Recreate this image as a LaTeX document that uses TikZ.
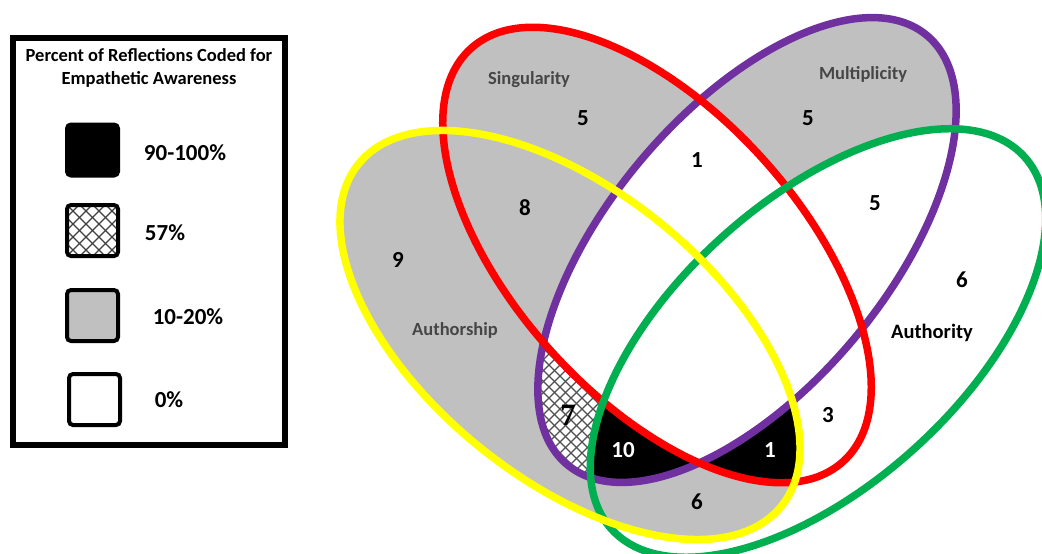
\documentclass[tikz,border=0pt]{standalone}
\usepackage{fontspec}
\setmainfont{Carlito}
\newfontfamily\sevenfont{Liberation Serif}
\definecolor{vred}{RGB}{255,0,0}
\definecolor{vpurple}{RGB}{112,48,160}
\definecolor{vyellow}{RGB}{255,255,0}
\definecolor{vgreen}{RGB}{0,176,80}
\definecolor{vgray}{RGB}{192,192,192}
\definecolor{labgray}{RGB}{70,70,70}
\definecolor{hatchgray}{RGB}{80,80,80}
\def\Rp{(657,255) ellipse (278 and 143)}
\def\Pp{(747,250) ellipse (280 and 139)}
\def\Yp{(570,335) ellipse (272 and 144)}
\def\Gp{(818,343) ellipse (278 and 143)}
\tikzset{
  Rrot/.style={rotate around={-48:(657,255)}},
  Prot/.style={rotate around={50:(747,250)}},
  Yrot/.style={rotate around={-39:(570,335)}},
  Grot/.style={rotate around={42:(818,343)}},
  vline/.style={line width=7.5pt},
  vhatch/.style={draw=hatchgray, line width=1.1pt},
  lhatch/.style={draw=black!75, line width=1.1pt},
  legbox/.style={draw=black, line width=4pt, rounded corners=4pt, minimum width=51pt, minimum height=51pt, inner sep=0pt},
  ttl/.style={font=\fontsize{18.5}{23}\selectfont\bfseries, align=center, inner sep=0pt},
  leglab/.style={font=\fontsize{23}{26}\selectfont\bfseries, inner sep=0pt},
  num/.style={font=\fontsize{23}{26}\selectfont\bfseries, inner sep=0pt},
  setlab/.style={font=\fontsize{18.5}{22}\selectfont\bfseries, text=labgray, inner sep=0pt},
}
\begin{document}
\begin{tikzpicture}[x=1pt,y=-1pt]
\useasboundingbox (0,0) rectangle (1042,554);
\fill[white] (0,0) rectangle (1042,554);

% ---------- region fills ----------
\fill[vgray,Yrot] \Yp;
\fill[vgray,Rrot] \Rp;
\fill[vgray,Prot] \Pp;
\fill[white,Grot] \Gp;
\begin{scope}
  \clip[Rrot] \Rp;
  \fill[white,Prot] \Pp;
\end{scope}
% Y and P : crosshatch
\begin{scope}
  \clip[Yrot] \Yp;
  \clip[Prot] \Pp;
  \fill[white] (400,250) rectangle (750,520);
  \foreach \k in {-25,...,25} {
    \draw[vhatch] (560+\k*11-150,270) -- ++(300,300);
    \draw[vhatch] (560+\k*11-150,570) -- ++(300,-300);
  }
\end{scope}
% Y and G : gray
\begin{scope}
  \clip[Yrot] \Yp;
  \fill[vgray,Grot] \Gp;
\end{scope}
% Y, R and P : white
\begin{scope}
  \clip[Yrot] \Yp;
  \clip[Rrot] \Rp;
  \fill[white,Prot] \Pp;
\end{scope}
% Y, G with R or P : black ; all four : white
\begin{scope}
  \clip[Yrot] \Yp;
  \clip[Grot] \Gp;
  \fill[black,Rrot] \Rp;
  \fill[black,Prot] \Pp;
  \clip[Rrot] \Rp;
  \fill[white,Prot] \Pp;
\end{scope}

% ---------- outlines ----------
\draw[vline,vpurple,Prot] \Pp;
\draw[vline,vred,Rrot] \Rp;
\draw[vline,vgreen,Grot] \Gp;
\draw[vline,vyellow,Yrot] \Yp;

% ---------- labels ----------
\node[setlab] (sing) at (529,80) {Singularity};
\node[setlab] (mult) at (863,74) {Multiplicity};
\node[setlab] (auth) at (455,330) {Authorship};
\node[font=\fontsize{20.5}{24}\selectfont\bfseries, inner sep=0pt] (autho) at (932,333) {Authority};

\node[num] (nR) at (583,118) {5};
\node[num] (nYR) at (525,208) {8};
\node[num] (nY) at (398,260) {9};
\node[num] (nP) at (808,118) {5};
\node[num] (nRP) at (697,160) {1};
\node[num] (nPG) at (875,203) {5};
\node[num] (nG) at (962,280) {6};
\node[num] (nRG) at (828,415) {3};
\node[num, text=white] (nYRG) at (770,450) {1};
\node[num, text=white] (nYPG) at (623,450) {10};
\node[font=\fontsize{31}{34}\selectfont\sevenfont\bfseries, inner sep=0pt] (nYP) at (568,415) {7};
\node[num] (nYG) at (697,502) {6};

% ---------- legend ----------
\draw[line width=6pt] (13,38) rectangle (285,445);
\node[ttl] (title) at (149,68) {Percent of Reflections Coded for\\Empathetic Awareness};
\node[legbox, fill=black] (kblack) at (92.5,150) {};
\node[legbox, fill=white, path picture={
  \foreach \k in {-6,...,6} {
    \draw[lhatch, shift={(path picture bounding box.center)}] (\k*13-40,-40) -- ++(80,80);
    \draw[lhatch, shift={(path picture bounding box.center)}] (\k*13-40,40) -- ++(80,-80);
  }}] (khatch) at (92.5,230.5) {};
\node[legbox, fill=vgray] (kgray) at (92.5,315.5) {};
\node[legbox, fill=white] (kwhite) at (94.5,399.5) {};
\node[leglab] (l1) at (185,153) {90-100\%};
\node[leglab] (l2) at (165,233) {57\%};
\node[leglab] (l3) at (188,317) {10-20\%};
\node[leglab] (l4) at (169,400) {0\%};
\end{tikzpicture}
\end{document}
